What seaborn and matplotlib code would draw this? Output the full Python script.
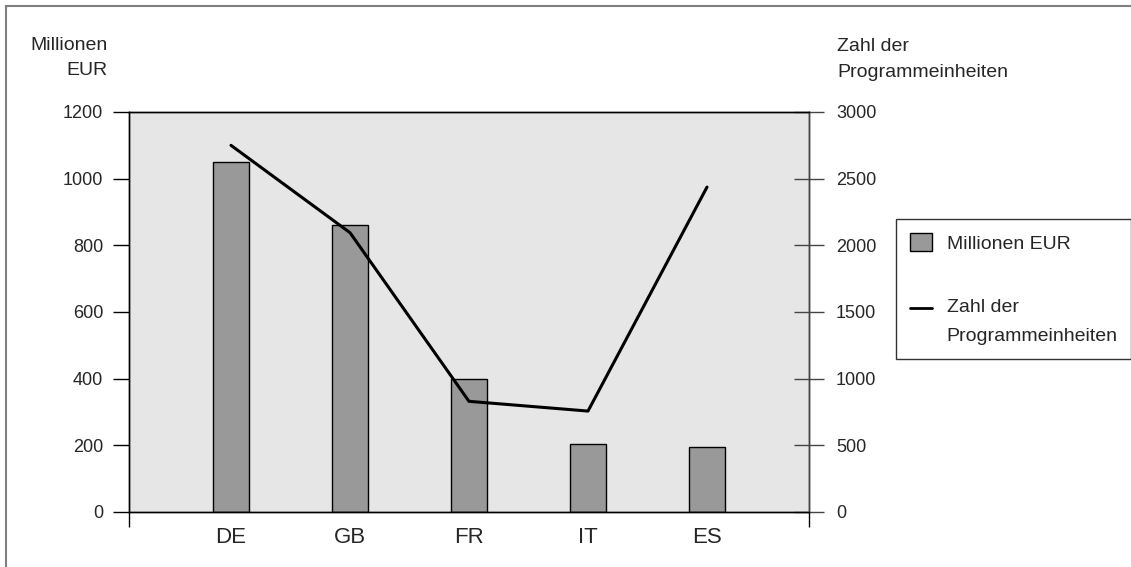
import numpy as np
import pandas as pd
import matplotlib
matplotlib.use("Agg")
import matplotlib.pyplot as plt
import matplotlib.patches as mpatches
import matplotlib.lines as mlines
from matplotlib.legend_handler import HandlerLine2D
import seaborn as sns

# ============================
# Data
# ============================

countries = ["DE", "GB", "FR", "IT", "ES"]
mio_eur = [1050, 860, 400, 205, 195]
programme_units = [2750, 2095, 830, 757, 2437]

left_ticks = [0, 200, 400, 600, 800, 1000, 1200]
right_ticks = [0, 500, 1000, 1500, 2000, 2500, 3000]

df = pd.DataFrame({"Land": countries, "Mio": mio_eur, "Einheiten": programme_units})

# ============================
# Style
# ============================

sns.set_theme(style="white")
plt.rcParams["font.family"] = ["Liberation Sans", "DejaVu Sans"]

fig = plt.figure(figsize=(11.31, 5.67), dpi=100)
ax = fig.add_axes([129 / 1131, 1 - 512 / 567, (809 - 129) / 1131, (512 - 112) / 567])
ax.set_facecolor("#e6e6e6")

# ============================
# Bars
# ============================

sns.barplot(data=df, x="Land", y="Mio", color="#999999", width=0.31,
            edgecolor="black", linewidth=1, saturation=1, ax=ax)

# ============================
# Line on second axis
# ============================

ax2 = ax.twinx()
pos = np.arange(len(countries))
sns.lineplot(x=pos, y=programme_units, color="black", linewidth=2.2,
             sort=False, ax=ax2)

xlo, xhi = -0.857, len(countries) - 1 + 0.857
ax.set_xlim(xlo, xhi)
ax2.set_xlim(xlo, xhi)
ax.set_ylim(0, 1200)
ax2.set_ylim(0, 3000)

ax.set_xticks(pos)
ax.set_xticklabels(countries, fontsize=16)
ax.set_xticks([xlo, xhi], minor=True)
ax.tick_params(axis="x", which="major", length=0, pad=11)
ax.tick_params(axis="x", which="minor", length=11, width=1, color="black", direction="out", bottom=True)

ax.set_yticks(left_ticks)
ax.tick_params(axis="y", which="major", direction="out", length=11.5, width=1,
               color="black", pad=7, labelsize=13, left=True)
ax2.set_yticks(right_ticks)
ax2.tick_params(axis="y", which="major", direction="inout", length=21.6, width=1,
                color="#444444", pad=8.6, labelsize=13, right=True)

ax.set_xlabel("")
ax.set_ylabel("")
ax2.set_ylabel("")

for a in (ax, ax2):
    for s in a.spines.values():
        s.set_color("black")
        s.set_linewidth(1)
        s.set_visible(True)
ax2.spines["right"].set_color("#444444")

# ============================
# Axis titles
# ============================

fig.text(108 / 1131, 1 - 75 / 567, "Millionen\nEUR", ha="right", va="baseline",
         multialignment="right", fontsize=14, linespacing=1.65)
fig.text(837 / 1131, 1 - 77 / 567, "Zahl der\nProgrammeinheiten", ha="left",
         va="baseline", fontsize=14, linespacing=1.7)

# ============================
# Legend
# ============================


class HandlerRaisedLine(HandlerLine2D):
    # put the line next to the first text line, not the last one
    def create_artists(self, legend, orig_handle, xdescent, ydescent, width,
                       height, fontsize, trans):
        arts = super().create_artists(legend, orig_handle, xdescent, ydescent,
                                      width, height, fontsize, trans)
        for a in arts:
            a.set_ydata(np.asarray(a.get_ydata()) + 9.5)
        return arts


h_bar = mpatches.Patch(facecolor="#999999", edgecolor="black", linewidth=1)
h_line = mlines.Line2D([], [], color="black", linewidth=2)
leg = fig.legend([h_bar, h_line], ["Millionen EUR", "Zahl der\nProgrammeinheiten"],
                 loc="upper left", bbox_to_anchor=(896 / 1131, 1 - 219 / 567),
                 fontsize=14, frameon=True, fancybox=False, borderpad=0.7,
                 labelspacing=2.4, handlelength=1.15, handleheight=1.1,
                 handletextpad=0.75, borderaxespad=0,
                 handler_map={h_line: HandlerRaisedLine()})
for t in leg.get_texts():
    t.set_linespacing(1.92)
leg.get_frame().set_edgecolor("black")
leg.get_frame().set_linewidth(1)

# ============================
# Outer frame
# ============================

fig.patches.append(mpatches.Rectangle((5.5 / 1131, -0.1), 1.2, 1 - 5.5 / 567 + 0.1,
                                      transform=fig.transFigure, fill=False,
                                      edgecolor="#7f7f7f", linewidth=1.5))

fig.savefig("out.png", dpi=100)
